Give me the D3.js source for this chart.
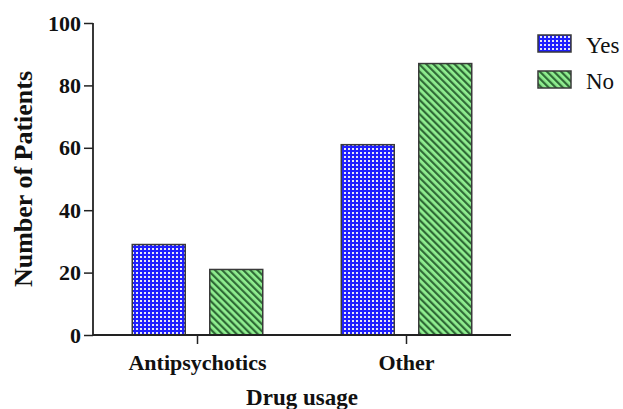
<!DOCTYPE html>
<html><head><meta charset="utf-8">
<script src="https://cdn.jsdelivr.net/npm/d3@7"></script>
<style>body{margin:0;background:#fff}svg{display:block}</style>
</head><body>
<script>
const categories = ["Antipsychotics", "Other"];
const seriesNames = ["Yes", "No"];
const yesValues = [29, 61];
const noValues = [21, 87];
const yTicks = [0, 20, 40, 60, 80, 100];

const W = 623, H = 409;
const svg = d3.select("body").append("svg").attr("width", W).attr("height", H);
const defs = svg.append("defs");

const pb = defs.append("pattern").attr("id", "pYes").attr("patternUnits", "userSpaceOnUse")
  .attr("width", 4).attr("height", 4);
pb.append("rect").attr("width", 4).attr("height", 4).attr("fill", "#1f1fff");
pb.append("rect").attr("x", 0).attr("y", 0).attr("width", 2).attr("height", 2).attr("fill", "#e8e8f4");

const pg = defs.append("pattern").attr("id", "pNo").attr("patternUnits", "userSpaceOnUse")
  .attr("width", 5).attr("height", 5).attr("patternTransform", "rotate(-45)");
pg.append("rect").attr("width", 5).attr("height", 5).attr("fill", "#90ee90");
pg.append("rect").attr("x", 0).attr("width", 2.2).attr("height", 5).attr("fill", "#2f6a36");

const fills = ["url(#pYes)", "url(#pNo)"];
const series = [yesValues, noValues];

const mLeft = 93, mRight = 511, mTop = 23, mBottom = 335;
const x = d3.scaleBand().domain(categories).range([mLeft, mRight]).padding(0);
const y = d3.scaleLinear().domain([0, 100]).range([mBottom, mTop]);
const barW = 53, gap = 24.5;

const font = "'Liberation Serif','Times New Roman',serif";

categories.forEach((c, i) => {
  const cx = x(c) + x.bandwidth() / 2;
  series.forEach((vals, s) => {
    const x0 = s === 0 ? cx - gap / 2 - barW : cx + gap / 2;
    svg.append("rect").attr("x", x0).attr("y", y(vals[i]))
      .attr("width", barW).attr("height", y(0) - y(vals[i]))
      .attr("fill", fills[s]).attr("stroke", "#3a3a3a").attr("stroke-width", 1.5);
  });
});

// y axis
const yAxis = svg.append("g").attr("transform", `translate(${mLeft},0)`)
  .call(d3.axisLeft(y).tickValues(yTicks).tickSize(9).tickPadding(3).tickFormat(d3.format("d")));
yAxis.select(".domain").attr("stroke", "#222").attr("stroke-width", 1.8).attr("d", `M0,${mTop}V${mBottom}`);
yAxis.selectAll(".tick line").attr("stroke", "#222").attr("stroke-width", 1.5);
yAxis.selectAll("text").attr("font-family", font).attr("font-weight", "bold").attr("font-size", 22).attr("fill", "#111");

// x axis
const xAxis = svg.append("g").attr("transform", `translate(0,${mBottom})`)
  .call(d3.axisBottom(x).tickSize(9).tickPadding(10));
xAxis.select(".domain").attr("stroke", "#222").attr("stroke-width", 1.8).attr("d", `M${mLeft},0H${mRight}`);
xAxis.selectAll(".tick line").attr("stroke", "#222").attr("stroke-width", 1.5);
xAxis.selectAll("text").attr("font-family", font).attr("font-weight", "bold").attr("font-size", 22).attr("fill", "#111");

svg.append("text").attr("x", (mLeft + mRight) / 2).attr("y", 405).attr("text-anchor", "middle")
  .attr("font-family", font).attr("font-weight", "bold").attr("font-size", 23).attr("fill", "#111")
  .text("Drug usage");

svg.append("text").attr("transform", `translate(32,${(mTop + mBottom) / 2}) rotate(-90)`)
  .attr("text-anchor", "middle")
  .attr("font-family", font).attr("font-weight", "bold").attr("font-size", 26).attr("fill", "#111")
  .text("Number of Patients");

// legend
seriesNames.forEach((n, i) => {
  const ly = 35 + i * 36;
  svg.append("rect").attr("x", 538).attr("y", ly).attr("width", 33).attr("height", 17)
    .attr("fill", fills[i]).attr("stroke", "#3a3a3a").attr("stroke-width", 1.5);
  svg.append("text").attr("x", 586).attr("y", ly + 18).attr("font-family", font)
    .attr("font-size", 23).attr("fill", "#111").text(n);
});
</script>
</body></html>
